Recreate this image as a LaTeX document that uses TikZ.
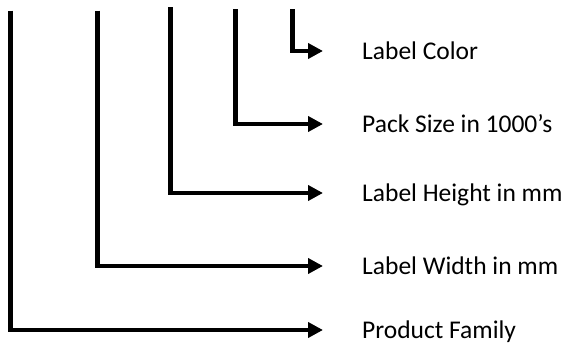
\documentclass[tikz,border=0pt]{standalone}
\usepackage{fontspec}
\setmainfont{Carlito}
\usetikzlibrary{arrows.meta}

\begin{document}
\begin{tikzpicture}[x=1pt,y=-1pt,
		>={Triangle[length=15pt,width=15pt]},
		field/.style={
			anchor=west,
			inner sep=0pt,
			text height=16.4pt,
			text depth=0pt,
			font=\fontsize{25.5}{30}\selectfont
		},
		feed/.style={->, line width=4.8pt, line join=miter, shorten >=39pt}]

	\useasboundingbox (0,0) rectangle (573,345);

	% Upper ends of the five code lines
	\coordinate (familyTop) at (10.7,10.7);
	\coordinate (widthTop) at (97.3,10.7);
	\coordinate (heightTop) at (170.7,7.3);
	\coordinate (packTop) at (235.3,9.3);
	\coordinate (colorTop) at (292.7,9.3);

	%% Field labels
	\node [field] (color) at (362,51) {Label Color};
	\node [field] (pack) at (362,124) {Pack Size in 1000’s};
	\node [field] (height) at (362,193) {Label Height in mm};
	\node [field] (width) at (362,266) {Label Width in mm};
	\node [field] (family) at (362,330) {Product Family};

	%% Lines from each position to its field
	\draw [feed] (colorTop) |- (color.west);
	\draw [feed] (packTop) |- (pack.west);
	\draw [feed] (heightTop) |- (height.west);
	\draw [feed] (widthTop) |- (width.west);
	\draw [feed] (familyTop) |- (family.west);
\end{tikzpicture}
\end{document}
